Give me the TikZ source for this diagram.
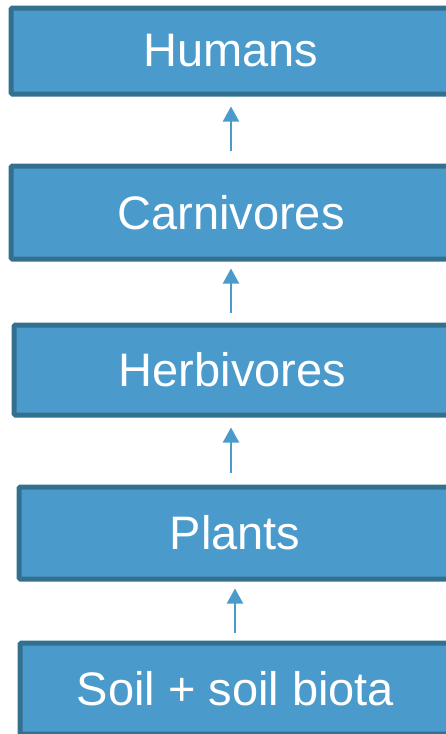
\documentclass[tikz,border=0pt]{standalone}
\usepackage{fontspec}
\setmainfont{Liberation Sans}
\usetikzlibrary{arrows.meta}
\definecolor{boxfill}{HTML}{4A9BCB}
\definecolor{boxedge}{HTML}{33708F}
\begin{document}
\begin{tikzpicture}[x=1pt,y=-1pt,
  level/.style={draw=boxedge, fill=boxfill, line width=5pt, rounded corners=1.5pt,
    text=white, font=\fontsize{47}{56}\selectfont, inner sep=0pt, anchor=center},
  flow/.style={draw=boxfill, line width=2pt,
    -{Triangle[width=16pt,length=15pt]}}]
  \useasboundingbox (0,0) rectangle (446,734);
  % trophic levels, bottom to top
  \node[level, minimum width=440pt, minimum height=86pt] (humans) at (231,51) {Humans};
  \node[level, minimum width=440pt, minimum height=93pt] (carn) at (231,212.5) {Carnivores};
  \node[level, minimum width=437pt, minimum height=90pt] (herb) at (232.5,370) {Herbivores};
  \node[level, minimum width=432pt, minimum height=92pt] (plants) at (235,533) {Plants};
  \node[level, minimum width=431pt, minimum height=91pt] (soil) at (235.5,688.5) {Soil + soil biota};
  % energy flow upward
  \draw[flow, shorten <=13pt, shorten >=10pt] (carn.north -| 231,0) -- (humans.south -| 231,0);
  \draw[flow, shorten <=10pt, shorten >=7pt] (herb.north -| 231,0) -- (carn.south -| 231,0);
  \draw[flow, shorten <=12pt, shorten >=10pt] (plants.north -| 231,0) -- (herb.south -| 231,0);
  \draw[flow, shorten <=8pt, shorten >=7pt] (soil.north -| 235,0) -- (plants.south -| 235,0);
\end{tikzpicture}
\end{document}
